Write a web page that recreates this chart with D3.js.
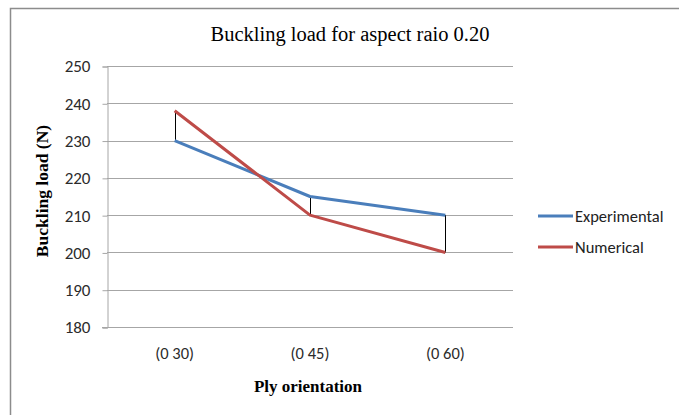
<!DOCTYPE html>
<html>
<head>
    <meta charset="utf-8">
    <title>Buckling load</title>
    <script src="https://d3js.org/d3.v7.min.js"></script>
    <style>
        body { margin: 0; padding: 0; background: #fff; overflow: hidden; }
    </style>
</head>
<body>
    <script>
        var categories = ["(0 30)", "(0 45)", "(0 60)"];
        var experimental = [230, 215, 210];
        var numerical = [238, 210, 200];
        var yTicks = [180, 190, 200, 210, 220, 230, 240, 250];

        var width = 679, height = 415;
        var svg = d3.select("body").append("svg")
            .attr("width", width)
            .attr("height", height);

        // outer chart border (only left and top visible in the crop)
        svg.append("path")
            .attr("d", "M10.5,420V8.5H690")
            .attr("fill", "none")
            .attr("stroke", "#8c8c8c")
            .attr("stroke-width", 1.5);

        var plotL = 107, plotR = 513, plotT = 66, plotB = 327;
        var labelFont = "Calibri, Carlito, 'Liberation Sans', Arial, sans-serif";
        var serif = "'Liberation Serif', 'Times New Roman', serif";

        var x = d3.scaleBand().domain(categories).range([plotL, plotR]);
        var y = d3.scaleLinear().domain([180, 250]).range([plotB, plotT]);
        var cx = d => x(d) + x.bandwidth() / 2;

        // gridlines
        svg.append("g").selectAll("line")
            .data(yTicks.slice(1))
            .join("line")
            .attr("x1", plotL).attr("x2", plotR)
            .attr("y1", d => Math.round(y(d)) + 0.5)
            .attr("y2", d => Math.round(y(d)) + 0.5)
            .attr("stroke", "#a6a6a6")
            .attr("stroke-width", 1);

        // y axis
        var yAxis = svg.append("g")
            .attr("transform", "translate(" + (plotL + 0.5) + ",0.5)")
            .call(d3.axisLeft(y).tickValues(yTicks).tickSize(5).tickPadding(12));
        yAxis.select(".domain").attr("stroke", "#a6a6a6");
        yAxis.selectAll(".tick line").attr("stroke", "#a6a6a6");
        yAxis.selectAll("text")
            .attr("font-family", labelFont)
            .attr("font-size", 17)
            .attr("fill", "#2b2b2b");

        // x axis
        var xAxis = svg.append("g")
            .attr("transform", "translate(0," + (plotB + 0.5) + ")")
            .call(d3.axisBottom(x).tickSize(0).tickPadding(20));
        xAxis.select(".domain").attr("stroke", "#a6a6a6")
            .attr("d", "M" + (plotL - 5) + ",0H" + plotR);
        xAxis.selectAll("text")
            .attr("font-family", labelFont)
            .attr("font-size", 16.5)
            .attr("fill", "#2b2b2b");

        // high-low lines
        svg.append("g").selectAll("line")
            .data(categories)
            .join("line")
            .attr("x1", d => Math.round(cx(d)) + 0.5)
            .attr("x2", d => Math.round(cx(d)) + 0.5)
            .attr("y1", (d, i) => y(experimental[i]))
            .attr("y2", (d, i) => y(numerical[i]))
            .attr("stroke", "#000")
            .attr("stroke-width", 1);

        var line = d3.line().x((d, i) => cx(categories[i])).y(d => y(d));
        var series = [
            { name: "Experimental", values: experimental, color: "#4a7ebb" },
            { name: "Numerical", values: numerical, color: "#be4b48" }
        ];

        series.forEach(s => {
            svg.append("path")
                .datum(s.values)
                .attr("d", line)
                .attr("fill", "none")
                .attr("stroke", s.color)
                .attr("stroke-width", 3)
                .attr("stroke-linejoin", "round");
        });

        // legend
        var legend = svg.append("g").selectAll("g")
            .data(series)
            .join("g")
            .attr("transform", (d, i) => "translate(538," + (216 + i * 31) + ")");
        legend.append("line")
            .attr("x1", 0).attr("x2", 35)
            .attr("stroke", d => d.color)
            .attr("stroke-width", 3);
        legend.append("text")
            .attr("x", 37).attr("dy", "0.35em")
            .attr("font-family", labelFont)
            .attr("font-size", 16.5)
            .attr("fill", "#222")
            .text(d => d.name);

        // title and axis titles
        svg.append("text")
            .attr("x", 350).attr("y", 41)
            .attr("text-anchor", "middle")
            .attr("font-family", serif)
            .attr("font-size", 20.5)
            .text("Buckling load for aspect raio 0.20");

        svg.append("text")
            .attr("x", 308).attr("y", 392)
            .attr("text-anchor", "middle")
            .attr("font-family", serif)
            .attr("font-weight", "bold")
            .attr("font-size", 17)
            .text("Ply orientation");

        svg.append("text")
            .attr("transform", "translate(48,191) rotate(-90)")
            .attr("text-anchor", "middle")
            .attr("font-family", serif)
            .attr("font-weight", "bold")
            .attr("font-size", 17.5)
            .text("Buckling load (N)");
    </script>
</body>
</html>
